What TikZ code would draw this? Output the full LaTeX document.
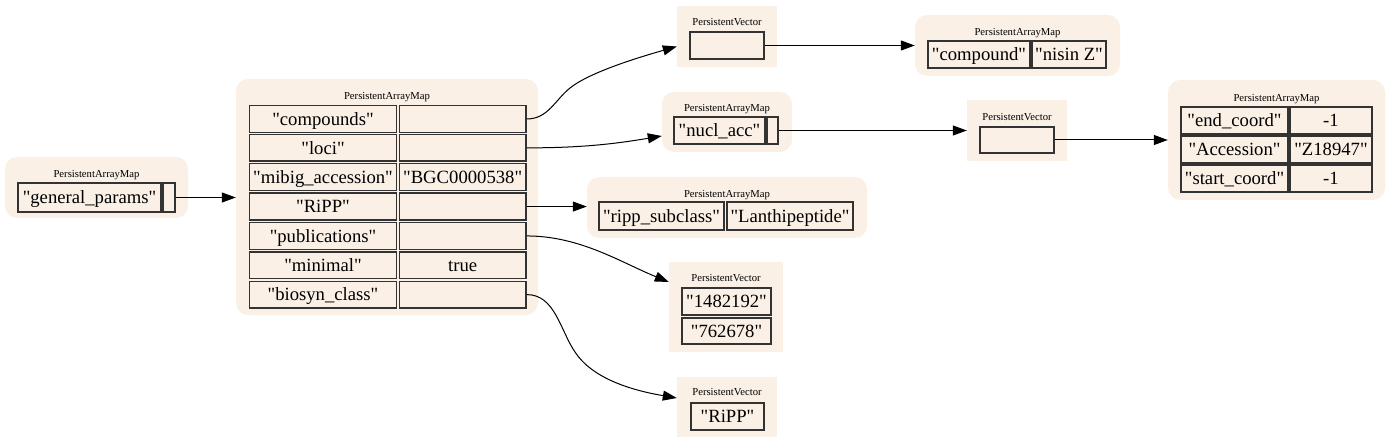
\documentclass[tikz,border=0pt]{standalone}
\usepackage{fontspec}
\setmainfont{Liberation Serif}
\usetikzlibrary{arrows.meta}
\definecolor{bgfill}{HTML}{FAF0E6}
\definecolor{cellline}{HTML}{333333}
\newcommand\qq{\textquotedbl}
\newcommand\bx[7]{%
  \pgfmathsetmacro\bw{(#5)-(#3)}%
  \pgfmathsetmacro\bh{(#6)-(#4)}%
  \pgfmathsetmacro\bcx{((#3)+(#5))/2}%
  \pgfmathsetmacro\bcy{((#4)+(#6))/2}%
  \node[#1, minimum width=\bw pt, minimum height=\bh pt] (#2) at (\bcx,\bcy) {#7};}
\tikzset{
  mapbg/.style={rectangle, rounded corners=12pt, fill=bgfill, draw=none, inner sep=0pt},
  vecbg/.style={rectangle, fill=bgfill, draw=none, inner sep=0pt},
  cell/.style={rectangle, draw=cellline, line width=1.4pt, inner sep=0pt,
    font=\fontsize{18.67}{22}\selectfont, text height=16.6pt, text depth=4pt},
  ttl/.style={inner sep=0pt, font=\fontsize{10.67}{12}\selectfont, text height=9.5pt, text depth=2.3pt},
  edge/.style={draw=black, line width=1pt, -{Triangle[length=14pt,width=10pt]}}
}
\begin{document}
\begin{tikzpicture}[x=1pt,y=-1pt]
\useasboundingbox (0,0) rectangle (1389,443);
% general_params map
\bx{mapbg}{gp}{5}{157}{188}{218}{}
\node[ttl] (gpt) at (96.5,174) {PersistentArrayMap};
\bx{cell}{gpk}{18}{183}{161}{212}{\qq general\_params\qq}
\bx{cell}{gpv}{163}{183}{175}{212}{}
% main map
\bx{mapbg}{m}{236}{79}{538}{315}{}
\node[ttl] (mt) at (387,96) {PersistentArrayMap};
\bx{cell}{m1k}{249.3}{105.7}{396.7}{132.3}{\qq compounds\qq}
\bx{cell}{m1v}{399.3}{105.7}{526}{132.3}{}
\bx{cell}{m2k}{249.3}{134.5}{396.7}{161.2}{\qq loci\qq}
\bx{cell}{m2v}{399.3}{134.5}{526}{161.2}{}
\bx{cell}{m3k}{249.3}{163.8}{396.7}{190.5}{\qq mibig\_accession\qq}
\bx{cell}{m3v}{399.3}{163.8}{526}{190.5}{\qq BGC0000538\qq}
\bx{cell}{m4k}{249.3}{193.2}{396.7}{219.9}{\qq RiPP\qq}
\bx{cell}{m4v}{399.3}{193.2}{526}{219.9}{}
\bx{cell}{m5k}{249.3}{222.6}{396.7}{249.3}{\qq publications\qq}
\bx{cell}{m5v}{399.3}{222.6}{526}{249.3}{}
\bx{cell}{m6k}{249.3}{252}{396.7}{278.6}{\qq minimal\qq}
\bx{cell}{m6v}{399.3}{252}{526}{278.6}{true}
\bx{cell}{m7k}{249.3}{281.3}{396.7}{307.9}{\qq biosyn\_class\qq}
\bx{cell}{m7v}{399.3}{281.3}{526}{307.9}{}
% compounds vector
\bx{vecbg}{v1}{677}{6}{777}{67}{}
\node[ttl] (v1t) at (727,22) {PersistentVector};
\bx{cell}{v1c}{690}{32}{764}{59}{}
% compound map
\bx{mapbg}{cm}{915}{15}{1120}{76}{}
\node[ttl] (cmt) at (1017.5,32) {PersistentArrayMap};
\bx{cell}{cmk}{928}{41}{1030}{68}{\qq compound\qq}
\bx{cell}{cmv}{1032}{41}{1106}{68}{\qq nisin Z\qq}
% nucl_acc map
\bx{mapbg}{nm}{662}{92}{792}{152}{}
\node[ttl] (nmt) at (727,108) {PersistentArrayMap};
\bx{cell}{nmk}{674}{117}{765}{144}{\qq nucl\_acc\qq}
\bx{cell}{nmv}{767}{117}{778}{144}{}
% loci vector
\bx{vecbg}{v2}{967}{100}{1067}{161}{}
\node[ttl] (v2t) at (1017,117) {PersistentVector};
\bx{cell}{v2c}{980}{127}{1054}{153}{}
% accession map
\bx{mapbg}{am}{1168}{80}{1385}{200}{}
\node[ttl] (amt) at (1276.5,98) {PersistentArrayMap};
\bx{cell}{a1k}{1181}{107}{1288}{134}{\qq end\_coord\qq}
\bx{cell}{a1v}{1290}{107}{1372}{134}{-1}
\bx{cell}{a2k}{1181}{136}{1288}{163}{\qq Accession\qq}
\bx{cell}{a2v}{1290}{136}{1372}{163}{\qq Z18947\qq}
\bx{cell}{a3k}{1181}{165}{1288}{192}{\qq start\_coord\qq}
\bx{cell}{a3v}{1290}{165}{1372}{192}{-1}
% ripp map
\bx{mapbg}{rm}{587}{177}{867}{238}{}
\node[ttl] (rmt) at (727,194) {PersistentArrayMap};
\bx{cell}{rmk}{599}{202}{724}{230}{\qq ripp\_subclass\qq}
\bx{cell}{rmv}{727}{202}{853}{230}{\qq Lanthipeptide\qq}
% publications vector
\bx{vecbg}{pv}{669}{262}{783}{352}{}
\node[ttl] (pvt) at (726,278) {PersistentVector};
\bx{cell}{pv1}{682}{288}{771}{315}{\qq 1482192\qq}
\bx{cell}{pv2}{682}{318}{771}{344}{\qq 762678\qq}
% biosyn vector
\bx{vecbg}{rv}{677}{377}{777}{437}{}
\node[ttl] (rvt) at (727,392) {PersistentVector};
\bx{cell}{rvc}{691}{403}{764}{430}{\qq RiPP\qq}
% edges
\draw[edge] (gpv.east) -- (gpv.east -| m.west);
\draw[edge] (m1v.east) .. controls (548,119) and (555,100) .. (570,88)
  .. controls (590,72) and (640,57) .. ([yshift=-10pt]v1.west);
\draw[edge] (m2v.east) .. controls (585,148) and (620,143) .. ([yshift=-14pt]nm.west);
\draw[edge] (m4v.east) -- (m4v.east -| rm.west);
\draw[edge] (m5v.east) .. controls (580,236) and (620,262) .. ([yshift=25pt]pv.west);
\draw[edge] (m7v.east) .. controls (555,294.5) and (560,330) .. (575,352)
  .. controls (592,378) and (630,390) .. ([yshift=9pt]rv.west);
\draw[edge] (v1c.east) -- (v1c.east -| cm.west);
\draw[edge] (nmv.east) -- (nmv.east -| v2.west);
\draw[edge] (v2c.east) -- (v2c.east -| am.west);
\end{tikzpicture}
\end{document}
